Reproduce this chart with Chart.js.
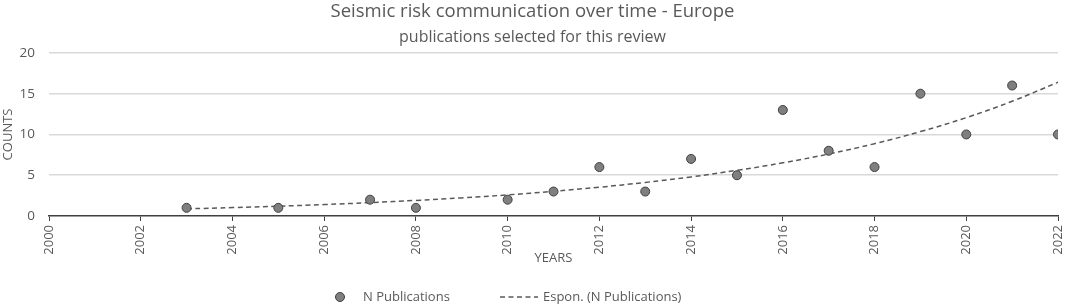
<!DOCTYPE html>
<html>
<head>
<meta charset="utf-8">
<script src="https://cdn.jsdelivr.net/npm/chart.js@4.4.1/dist/chart.umd.min.js"></script>
<style>
  html, body { margin: 0; padding: 0; background: #ffffff; }
  #wrap { width: 1065px; height: 307px; }
</style>
</head>
<body>
<div id="wrap"><canvas id="c" width="1065" height="307"></canvas></div>
<script>
// ---- data ----
const years = [2003, 2005, 2007, 2008, 2010, 2011, 2012, 2013, 2014, 2015, 2016, 2017, 2018, 2019, 2020, 2021, 2022];
const publications = [1, 1, 2, 1, 2, 3, 6, 3, 7, 5, 13, 8, 6, 15, 10, 16, 10];
const trendYears = [2003, 2004, 2005, 2006, 2007, 2008, 2009, 2010, 2011, 2012, 2013, 2014, 2015, 2016, 2017, 2018, 2019, 2020, 2021, 2022];
const trendValues = [0.88, 1.03, 1.2, 1.4, 1.64, 1.91, 2.22, 2.59, 3.03, 3.53, 4.12, 4.79, 5.6, 6.52, 7.6, 8.87, 10.35, 12.06, 14.07, 16.4];
const yTicks = [0, 5, 10, 15, 20];
const xTicks = [2000, 2002, 2004, 2006, 2008, 2010, 2012, 2014, 2016, 2018, 2020, 2022];
const seriesNames = ['N Publications', 'Espon. (N Publications)'];
const titleText = 'Seismic risk communication over time - Europe';
const subtitleText = 'publications selected for this review';

const FONT = "'Open Sans', 'Liberation Sans', sans-serif";
const TXT = '#595959';

const legendPlugin = {
  id: 'customLegend',
  afterDraw(chart) {
    const ctx = chart.ctx;
    const y = 297;
    ctx.save();
    ctx.font = '13px ' + FONT;
    ctx.textBaseline = 'middle';
    ctx.beginPath();
    ctx.arc(340, y, 4.5, 0, Math.PI * 2);
    ctx.fillStyle = '#7f7f7f';
    ctx.fill();
    ctx.lineWidth = 1;
    ctx.strokeStyle = '#404040';
    ctx.stroke();
    ctx.fillStyle = TXT;
    ctx.fillText(chart.data.datasets[0].label, 363, y);
    ctx.beginPath();
    ctx.setLineDash([5, 3.5]);
    ctx.lineWidth = 1.5;
    ctx.strokeStyle = '#595959';
    ctx.moveTo(500, y);
    ctx.lineTo(538, y);
    ctx.stroke();
    ctx.setLineDash([]);
    ctx.fillText(chart.data.datasets[1].label, 543, y);
    ctx.restore();
  }
};

new Chart(document.getElementById('c'), {
  type: 'scatter',
  data: {
    datasets: [
      {
        label: seriesNames[0],
        data: years.map((x, i) => ({ x: x, y: publications[i] })),
        pointRadius: 4.5,
        pointHoverRadius: 4.5,
        pointBackgroundColor: '#7f7f7f',
        pointBorderColor: '#404040',
        pointBorderWidth: 1,
        showLine: false,
        order: 1
      },
      {
        label: seriesNames[1],
        data: trendYears.map((x, i) => ({ x: x, y: trendValues[i] })),
        showLine: true,
        pointRadius: 0,
        borderColor: '#595959',
        borderWidth: 1.5,
        borderDash: [5, 3.5],
        tension: 0.4,
        fill: false,
        order: 2
      }
    ]
  },
  options: {
    responsive: false,
    animation: false,
    devicePixelRatio: 1,
    layout: { padding: { left: 0, right: 0, top: 0, bottom: 41 } },
    plugins: {
      legend: { display: false },
      tooltip: { enabled: false },
      title: {
        display: true,
        text: titleText,
        color: TXT,
        font: { family: FONT, size: 18.5, weight: 'normal' },
        padding: { top: 1, bottom: 5 }
      },
      subtitle: {
        display: true,
        text: subtitleText,
        color: TXT,
        font: { family: FONT, size: 16, weight: 'normal' },
        padding: { top: 0, bottom: 5.5 }
      }
    },
    scales: {
      x: {
        type: 'linear',
        min: xTicks[0],
        max: xTicks[xTicks.length - 1],
        afterBuildTicks: (scale) => { scale.ticks = xTicks.map(v => ({ value: v })); },
        afterFit: (scale) => { scale.height = 50; scale.paddingRight = 7; },
        ticks: {
          autoSkip: false,
          minRotation: 90,
          maxRotation: 90,
          padding: 4,
          color: TXT,
          font: { family: FONT, size: 13 },
          callback: (v) => String(v)
        },
        grid: {
          drawOnChartArea: false,
          drawTicks: true,
          tickLength: 5,
          color: '#404040'
        },
        border: { display: true, color: '#404040', width: 1.5 },
        title: {
          display: true,
          text: 'YEARS',
          color: TXT,
          font: { family: FONT, size: 13 },
          padding: { top: 0, bottom: 0 }
        }
      },
      y: {
        min: yTicks[0],
        max: yTicks[yTicks.length - 1],
        afterBuildTicks: (scale) => { scale.ticks = yTicks.map(v => ({ value: v })); },
        afterFit: (scale) => { scale.width = 49; },
        ticks: {
          padding: 14,
          color: TXT,
          font: { family: FONT, size: 13.5 }
        },
        grid: {
          color: (c) => c.tick && c.tick.value === 0 ? 'rgba(0,0,0,0)' : '#d9d9d9',
          lineWidth: 1.5,
          drawTicks: false
        },
        border: { display: false },
        title: {
          display: true,
          text: 'COUNTS',
          color: TXT,
          font: { family: FONT, size: 13 },
          padding: { top: 0, bottom: 0 }
        }
      }
    }
  },
  plugins: [legendPlugin]
});
</script>
</body>
</html>
